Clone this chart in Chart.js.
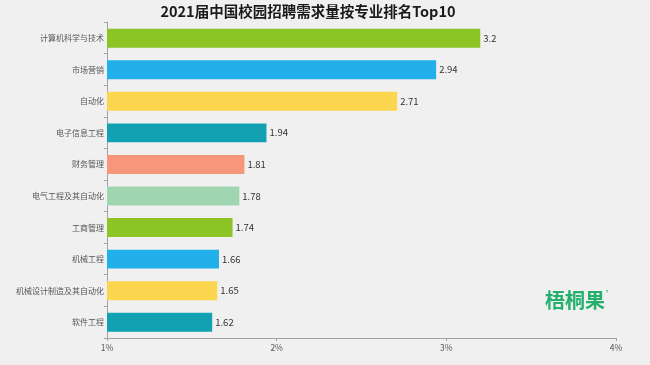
<!DOCTYPE html>
<html>
<head>
<meta charset="utf-8">
<script src="https://cdn.jsdelivr.net/npm/chart.js@4/dist/chart.umd.min.js"></script>
<style>
  html, body { margin: 0; padding: 0; background: #f0f0f0; }
  #wrap { width: 650px; height: 365px; }
</style>
</head>
<body>
<div id="wrap"><canvas id="chart" width="650" height="365"></canvas></div>
<script>
const majors = ['计算机科学与技术', '市场营销', '自动化', '电子信息工程', '财务管理',
    '电气工程及其自动化', '工商管理', '机械工程', '机械设计制造及其自动化', '软件工程'];
const demand = [3.2, 2.94, 2.71, 1.94, 1.81, 1.78, 1.74, 1.66, 1.65, 1.62];
const barColors = ['#8cc325', '#22b0eb', '#fdd650', '#12a1b2', '#f6977c',
    '#9fd6b1', '#8cc325', '#22b0eb', '#fdd650', '#12a1b2'];
const xTicks = [1, 2, 3, 4];

const fontFamily = '"Noto Sans CJK SC", "Noto Sans", sans-serif';

// value labels at the end of each bar
const valueLabels = {
    id: 'valueLabels',
    afterDatasetsDraw(chart) {
        const ctx = chart.ctx;
        const meta = chart.getDatasetMeta(0);
        ctx.save();
        ctx.font = '9.5px ' + fontFamily;
        ctx.fillStyle = '#333';
        ctx.textBaseline = 'middle';
        meta.data.forEach((bar, i) => {
            ctx.fillText(String(demand[i]), bar.x + 3, bar.y);
        });
        ctx.restore();
    }
};

// brand watermark
const watermark = {
    id: 'watermark',
    afterDraw(chart) {
        const ctx = chart.ctx;
        ctx.save();
        ctx.font = 'bold 20px ' + fontFamily;
        ctx.fillStyle = '#22b06c';
        ctx.textBaseline = 'middle';
        ctx.fillText('梧桐果', 545, 300);
        ctx.font = '5px ' + fontFamily;
        ctx.fillText('®', 606, 292);
        ctx.restore();
    }
};

new Chart(document.getElementById('chart').getContext('2d'), {
    type: 'bar',
    data: {
        labels: majors,
        datasets: [{
            data: demand,
            backgroundColor: barColors,
            barPercentage: 0.6,
            categoryPercentage: 1
        }]
    },
    options: {
        indexAxis: 'y',
        responsive: false,
        animation: false,
        layout: { padding: { left: 0, right: 34, top: 0, bottom: 7 } },
        scales: {
            x: {
                min: 1,
                max: 4,
                afterBuildTicks: scale => { scale.ticks = xTicks.map(v => ({ value: v })); },
                afterFit: scale => { scale.height = 20; },
                grid: { drawOnChartArea: false, tickLength: 3, color: '#9aa5ad' },
                border: { color: '#9aa5ad' },
                ticks: {
                    callback: v => v + '%',
                    color: '#555',
                    padding: 2,
                    maxRotation: 0,
                    font: { size: 8.5, family: fontFamily }
                }
            },
            y: {
                afterFit: scale => { scale.width = 107; },
                grid: { drawOnChartArea: false, offset: true, tickLength: 3, color: '#9aa5ad' },
                border: { color: '#9aa5ad' },
                ticks: {
                    color: '#555',
                    padding: 0,
                    font: { size: 8, family: fontFamily }
                }
            }
        },
        plugins: {
            legend: { display: false },
            tooltip: { enabled: false },
            title: {
                display: true,
                text: '2021届中国校园招聘需求量按专业排名Top10',
                color: '#1a1a1a',
                font: { size: 14.5, weight: 'bold', family: fontFamily },
                padding: { top: 3, bottom: 2 }
            }
        }
    },
    plugins: [valueLabels, watermark]
});
</script>
</body>
</html>
